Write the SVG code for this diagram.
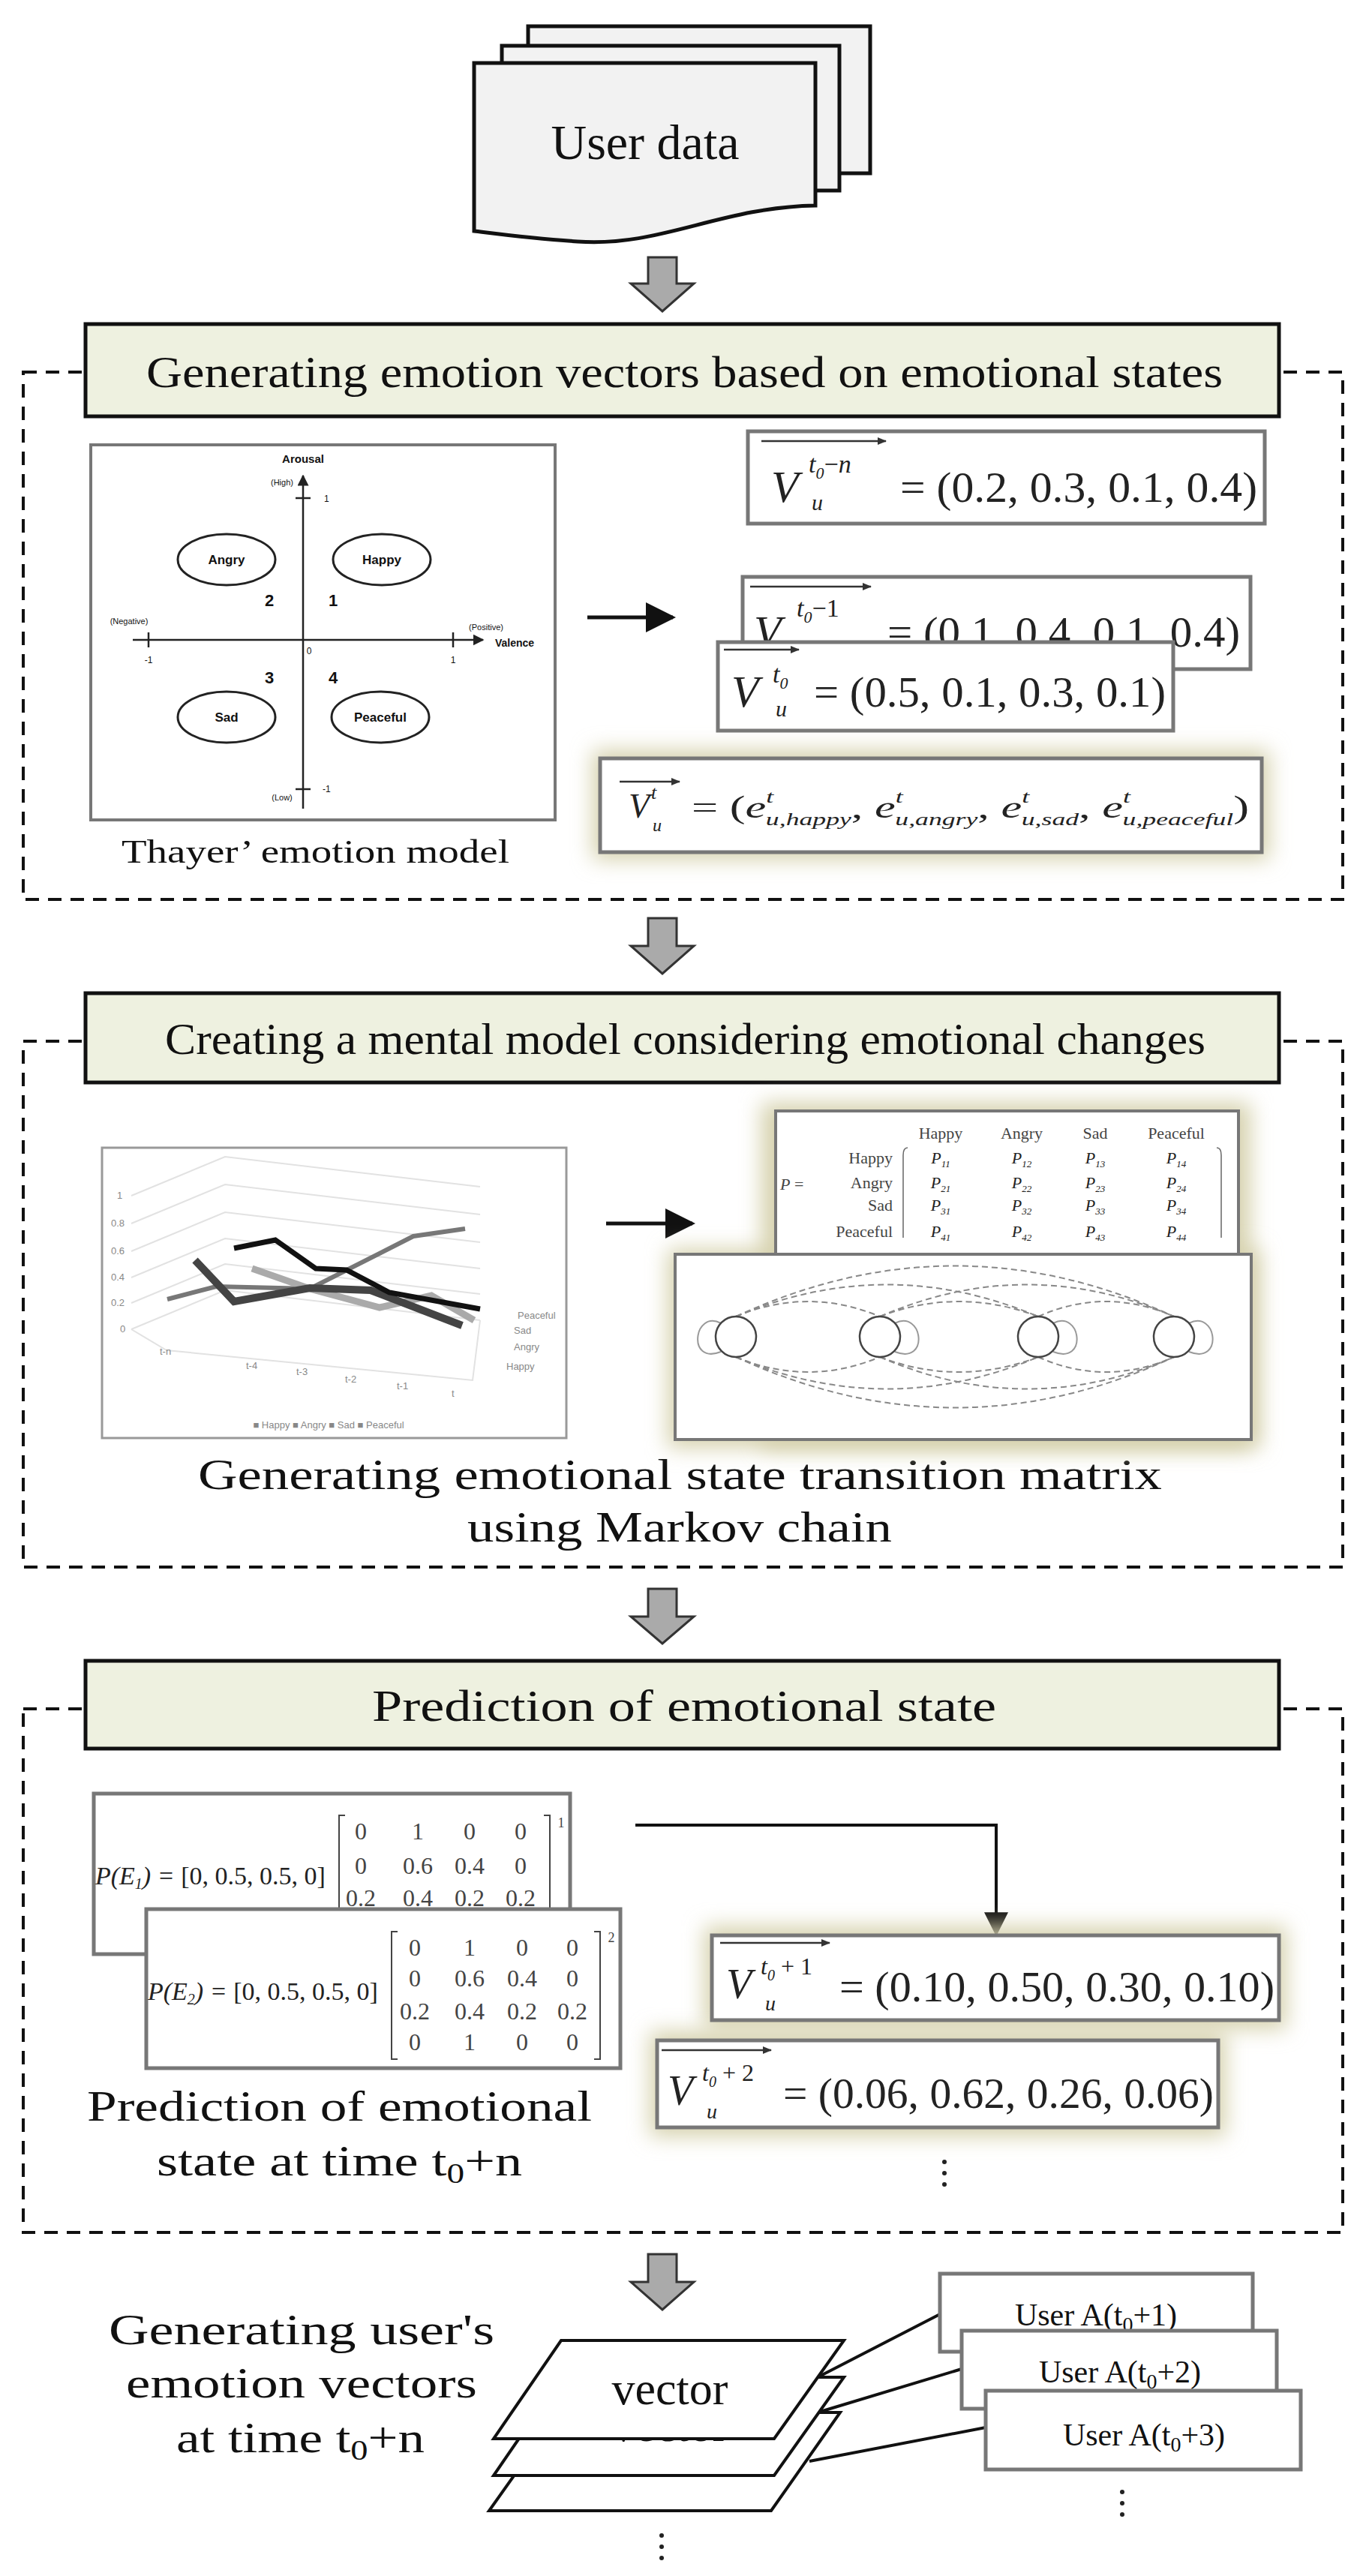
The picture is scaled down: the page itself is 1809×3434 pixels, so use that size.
<svg xmlns="http://www.w3.org/2000/svg" width="1809" height="3434" viewBox="0 0 1809 3434">
<defs>
<style>
.serif{font-family:"Liberation Serif","DejaVu Serif",serif;fill:#111}
.sans{font-family:"Liberation Sans","DejaVu Sans",sans-serif;fill:#111}
.hdr{fill:#eef1e0;stroke:#111;stroke-width:5}
.dash{fill:none;stroke:#111;stroke-width:4;stroke-dasharray:18 12}
.box{fill:#fff;stroke:#777;stroke-width:5}
.blk{fill:#aaa;stroke:#333;stroke-width:3}
.ax{stroke:#222;stroke-width:2.5;fill:none}
.ell{fill:#fff;stroke:#222;stroke-width:3}
.arc{fill:none;stroke:#888;stroke-width:2;stroke-dasharray:8 5}
.node{fill:#fff;stroke:#444;stroke-width:2.5}
.vec{stroke:#333;stroke-width:2.5}
.mi{font-family:"Liberation Serif","DejaVu Serif",serif;font-style:italic;fill:#222}
.mr{font-family:"Liberation Serif","DejaVu Serif",serif;fill:#222}
.pg{fill:#fff;stroke:#111;stroke-width:4}
</style>
<marker id="ah" viewBox="0 0 10 10" refX="9" refY="5" markerWidth="8" markerHeight="8" orient="auto"><path d="M0,0 L10,5 L0,10 Z" fill="#111"/></marker>
<marker id="sa" viewBox="0 0 10 10" refX="9" refY="5" markerWidth="5" markerHeight="5" orient="auto"><path d="M0,1 L10,5 L0,9 Z" fill="#333"/></marker>
<marker id="tah" viewBox="0 0 10 10" refX="9" refY="5" markerWidth="6" markerHeight="6" orient="auto"><path d="M0,0 L10,5 L0,10 Z" fill="#222"/></marker>
<filter id="glow" x="-20%" y="-40%" width="140%" height="180%"><feGaussianBlur stdDeviation="14"/></filter>
<clipPath id="midclip"><rect x="640" y="3251" width="500" height="60"/></clipPath>
</defs>
<rect width="1809" height="3434" fill="#fff"/>

<g id="userdata">
<rect x="704" y="35" width="456" height="196" fill="#f2f2f2" stroke="#111" stroke-width="5"/>
<rect x="669" y="61" width="450" height="193" fill="#f2f2f2" stroke="#111" stroke-width="5"/>
<path d="M632,84 L1087,84 L1087,274 C960,276 880,330 770,322 C710,318 665,312 632,308 Z" fill="#f2f2f2" stroke="#111" stroke-width="5"/>
<text class="serif" x="860" y="212" font-size="66" text-anchor="middle">User data</text>
</g>

<g id="connectors">
<path class="blk" d="M864,343 H902 V378 H925 L883,415 L841,378 H864 Z"/>
<path class="blk" d="M864,1224 H902 V1261 H925 L883,1298 L841,1261 H864 Z"/>
<path class="blk" d="M864,2118 H902 V2155 H925 L883,2191 L841,2155 H864 Z"/>
<path class="blk" d="M864,3005 H902 V3042 H925 L883,3079 L841,3042 H864 Z"/>
<line x1="783" y1="823" x2="897" y2="823" stroke="#111" stroke-width="5" marker-end="url(#ah)"/>
<line x1="808" y1="1631" x2="923" y2="1631" stroke="#111" stroke-width="5" marker-end="url(#ah)"/>
<path d="M847,2433 H1328 V2578" fill="none" stroke="#111" stroke-width="4" marker-end="url(#ah)"/>
<line x1="1090" y1="3169" x2="1253" y2="3085" stroke="#111" stroke-width="4"/>
<line x1="1090" y1="3216" x2="1282" y2="3158" stroke="#111" stroke-width="4"/>
<line x1="1079" y1="3281" x2="1314" y2="3236" stroke="#111" stroke-width="4"/>
</g>

<g id="section1">
<rect class="dash" x="31" y="496" width="1759" height="703"/>
<rect class="hdr" x="114" y="432" width="1591" height="123"/>
<text class="serif" x="195" y="516" font-size="60" textLength="1435" lengthAdjust="spacingAndGlyphs">Generating emotion vectors based on emotional states</text>
</g>

<g id="thayer">
<rect x="121" y="593" width="619" height="500" fill="#fff" stroke="#777" stroke-width="4"/>
<line class="ax" x1="404" y1="1078" x2="404" y2="634" marker-end="url(#tah)"/>
<line class="ax" x1="177" y1="853" x2="644" y2="853" marker-end="url(#tah)"/>
<line class="ax" x1="394" y1="664" x2="414" y2="664"/>
<line class="ax" x1="394" y1="1052" x2="414" y2="1052"/>
<line class="ax" x1="198" y1="843" x2="198" y2="863"/>
<line class="ax" x1="604" y1="843" x2="604" y2="863"/>
<text class="sans" x="404" y="617" font-size="15" font-weight="bold" text-anchor="middle">Arousal</text>
<text class="sans" x="376" y="647" font-size="11" text-anchor="middle" fill="#555">(High)</text>
<text class="sans" x="432" y="669" font-size="12" fill="#555">1</text>
<text class="sans" x="376" y="1067" font-size="11" text-anchor="middle" fill="#555">(Low)</text>
<text class="sans" x="430" y="1056" font-size="12" fill="#555">-1</text>
<text class="sans" x="172" y="832" font-size="11" text-anchor="middle" fill="#555">(Negative)</text>
<text class="sans" x="648" y="840" font-size="11" text-anchor="middle" fill="#555">(Positive)</text>
<text class="sans" x="660" y="862" font-size="14" font-weight="bold">Valence</text>
<text class="sans" x="198" y="884" font-size="12" text-anchor="middle" fill="#555">-1</text>
<text class="sans" x="604" y="884" font-size="12" text-anchor="middle" fill="#555">1</text>
<text class="sans" x="412" y="872" font-size="12" text-anchor="middle" fill="#555">0</text>
<ellipse class="ell" cx="302" cy="746" rx="65" ry="34"/>
<ellipse class="ell" cx="509" cy="746" rx="65" ry="34"/>
<ellipse class="ell" cx="302" cy="956" rx="65" ry="34"/>
<ellipse class="ell" cx="507" cy="956" rx="65" ry="34"/>
<text class="sans" x="302" y="752" font-size="17" font-weight="bold" text-anchor="middle">Angry</text>
<text class="sans" x="509" y="752" font-size="17" font-weight="bold" text-anchor="middle">Happy</text>
<text class="sans" x="302" y="962" font-size="17" font-weight="bold" text-anchor="middle">Sad</text>
<text class="sans" x="507" y="962" font-size="17" font-weight="bold" text-anchor="middle">Peaceful</text>
<text class="sans" x="359" y="808" font-size="22" font-weight="bold" text-anchor="middle">2</text>
<text class="sans" x="444" y="808" font-size="22" font-weight="bold" text-anchor="middle">1</text>
<text class="sans" x="359" y="911" font-size="22" font-weight="bold" text-anchor="middle">3</text>
<text class="sans" x="444" y="911" font-size="22" font-weight="bold" text-anchor="middle">4</text>
<text class="serif" x="162" y="1150" font-size="44" textLength="517" lengthAdjust="spacingAndGlyphs">Thayer’ emotion model</text>
</g>

<g id="vectors1">
<rect class="box" x="997" y="575" width="689" height="123"/>
<line class="vec" x1="1015" y1="588" x2="1181" y2="588" marker-end="url(#sa)"/>
<text class="mi" x="1028" y="669" font-size="60">V</text>
<text class="mi" x="1078" y="630" font-size="34">t<tspan font-size="22" dy="8">0</tspan><tspan dy="-8" font-style="normal">−</tspan>n</text>
<text class="mi" x="1082" y="680" font-size="30">u</text>
<text class="mr" x="1200" y="669" font-size="58" textLength="476" lengthAdjust="spacingAndGlyphs">= (0.2, 0.3, 0.1, 0.4)</text>
<circle cx="1322" cy="1070" r="3" fill="#222"/><circle cx="1322" cy="1085" r="3" fill="#222"/><circle cx="1322" cy="1100" r="3" fill="#222"/>
<rect class="box" x="990" y="769" width="677" height="123"/>
<line class="vec" x1="1000" y1="782" x2="1161" y2="782" marker-end="url(#sa)"/>
<text class="mi" x="1005" y="862" font-size="60">V</text>
<text class="mi" x="1062" y="822" font-size="34">t<tspan font-size="22" dy="8">0</tspan><tspan dy="-8" font-style="normal">−1</tspan></text>
<text class="mr" x="1183" y="862" font-size="58" textLength="470" lengthAdjust="spacingAndGlyphs">= (0.1, 0.4, 0.1, 0.4)</text>
<rect class="box" x="957" y="856" width="607" height="118"/>
<line class="vec" x1="965" y1="866" x2="1065" y2="866" marker-end="url(#sa)"/>
<text class="mi" x="975" y="942" font-size="60">V</text>
<text class="mi" x="1030" y="910" font-size="34">t<tspan font-size="22" dy="8">0</tspan></text>
<text class="mi" x="1034" y="955" font-size="30">u</text>
<text class="mr" x="1085" y="942" font-size="58" textLength="469" lengthAdjust="spacingAndGlyphs">= (0.5, 0.1, 0.3, 0.1)</text>
</g>

<g id="vectordef">
<rect x="790" y="1000" width="902" height="146" fill="#d6d1ad" filter="url(#glow)"/>
<rect class="box" x="800" y="1011" width="882" height="125"/>
<line class="vec" x1="826" y1="1042" x2="906" y2="1042" marker-end="url(#sa)"/>
<text class="mi" x="838" y="1090" font-size="46" fill="#444">V</text>
<text class="mi" x="868" y="1065" font-size="26" fill="#444">t</text>
<text class="mi" x="870" y="1108" font-size="24" fill="#444">u</text>
<text class="mi" x="922" y="1090" font-size="42" fill="#444" textLength="743" lengthAdjust="spacingAndGlyphs"><tspan font-style="normal">= (</tspan>e<tspan font-size="24" dy="-20">t</tspan><tspan font-size="24" dx="-7" dy="30">u,happy</tspan><tspan dy="-10" font-style="normal">, </tspan>e<tspan font-size="24" dy="-20">t</tspan><tspan font-size="24" dx="-7" dy="30">u,angry</tspan><tspan dy="-10" font-style="normal">, </tspan>e<tspan font-size="24" dy="-20">t</tspan><tspan font-size="24" dx="-7" dy="30">u,sad</tspan><tspan dy="-10" font-style="normal">, </tspan>e<tspan font-size="24" dy="-20">t</tspan><tspan font-size="24" dx="-7" dy="30">u,peaceful</tspan><tspan dy="-10" font-style="normal">)</tspan></text>
</g>

<g id="section2">
<rect class="dash" x="31" y="1388" width="1759" height="701"/>
<rect class="hdr" x="114" y="1324" width="1591" height="119"/>
<text class="serif" x="220" y="1405" font-size="60" textLength="1387" lengthAdjust="spacingAndGlyphs">Creating a mental model considering emotional changes</text>
<text class="serif" x="264" y="1985" font-size="56" textLength="1285" lengthAdjust="spacingAndGlyphs">Generating emotional state transition matrix</text>
<text class="serif" x="623" y="2055" font-size="56" textLength="566" lengthAdjust="spacingAndGlyphs">using Markov chain</text>
</g>

<g id="chart">
<rect x="136" y="1530" width="619" height="387" fill="#fff" stroke="#999" stroke-width="3"/>
<g stroke="#e2e2e2" stroke-width="2" fill="none">
<path d="M175,1772 L300,1720 L640,1760"/>
<path d="M175,1737 L300,1685 L640,1725"/>
<path d="M175,1703 L300,1651 L640,1691"/>
<path d="M175,1668 L300,1616 L640,1656"/>
<path d="M175,1631 L300,1579 L640,1619"/>
<path d="M175,1594 L300,1542 L640,1582"/>
<path d="M175,1772 L222,1800 L630,1840 L640,1760"/>
</g>
<g font-size="13" class="sans" fill="#888">
<text x="156" y="1598" fill="#888">1</text><text x="148" y="1635" fill="#888">0.8</text><text x="148" y="1672" fill="#888">0.6</text><text x="148" y="1707" fill="#888">0.4</text><text x="148" y="1741" fill="#888">0.2</text><text x="160" y="1776" fill="#888">0</text>
<text x="213" y="1806" fill="#888">t-n</text><text x="328" y="1825" fill="#888">t-4</text><text x="395" y="1833" fill="#888">t-3</text><text x="460" y="1843" fill="#888">t-2</text><text x="529" y="1852" fill="#888">t-1</text><text x="602" y="1862" fill="#888">t</text>
<text x="690" y="1758" fill="#888">Peaceful</text><text x="685" y="1778" fill="#888">Sad</text><text x="685" y="1800" fill="#888">Angry</text><text x="675" y="1826" fill="#888">Happy</text>
<text x="438" y="1904" text-anchor="middle" fill="#888">■ Happy  ■ Angry  ■ Sad  ■ Peaceful</text>
</g>
<polyline points="223,1732 288,1715 413,1718 551,1648 620,1638" fill="none" stroke="#777" stroke-width="6"/>
<polyline points="336,1691 413,1718 506,1743 575,1727 632,1760" fill="none" stroke="#aaa" stroke-width="9"/>
<polyline points="260,1680 312,1735 413,1717 494,1720 616,1767" fill="none" stroke="#444" stroke-width="10"/>
<polyline points="312,1664 367,1653 421,1691 462,1693 519,1723 640,1745" fill="none" stroke="#111" stroke-width="7"/>
</g>

<g id="matrix">
<rect x="1015" y="1470" width="652" height="460" fill="#d6d1ad" filter="url(#glow)"/>
<rect x="890" y="1665" width="790" height="265" fill="#d6d1ad" filter="url(#glow)"/>
<rect x="1034" y="1481" width="617" height="192" fill="#fff" stroke="#777" stroke-width="4"/>
<g class="mr" font-size="22" fill="#444">
<text x="1254" y="1518" text-anchor="middle" fill="#444">Happy</text><text x="1362" y="1518" text-anchor="middle" fill="#444">Angry</text><text x="1460" y="1518" text-anchor="middle" fill="#444">Sad</text><text x="1568" y="1518" text-anchor="middle" fill="#444">Peaceful</text>
<text x="1190" y="1551" text-anchor="end" fill="#444">Happy</text><text x="1190" y="1584" text-anchor="end" fill="#444">Angry</text><text x="1190" y="1614" text-anchor="end" fill="#444">Sad</text><text x="1190" y="1649" text-anchor="end" fill="#444">Peaceful</text>
<text x="1040" y="1586" fill="#444"><tspan font-style="italic">P</tspan> =</text>
</g>
<g class="mi" font-size="22" fill="#444" text-anchor="middle">
<text x="1254" y="1551">P<tspan font-size="13" dy="5">11</tspan></text><text x="1362" y="1551">P<tspan font-size="13" dy="5">12</tspan></text><text x="1460" y="1551">P<tspan font-size="13" dy="5">13</tspan></text><text x="1568" y="1551">P<tspan font-size="13" dy="5">14</tspan></text>
<text x="1254" y="1584">P<tspan font-size="13" dy="5">21</tspan></text><text x="1362" y="1584">P<tspan font-size="13" dy="5">22</tspan></text><text x="1460" y="1584">P<tspan font-size="13" dy="5">23</tspan></text><text x="1568" y="1584">P<tspan font-size="13" dy="5">24</tspan></text>
<text x="1254" y="1614">P<tspan font-size="13" dy="5">31</tspan></text><text x="1362" y="1614">P<tspan font-size="13" dy="5">32</tspan></text><text x="1460" y="1614">P<tspan font-size="13" dy="5">33</tspan></text><text x="1568" y="1614">P<tspan font-size="13" dy="5">34</tspan></text>
<text x="1254" y="1649">P<tspan font-size="13" dy="5">41</tspan></text><text x="1362" y="1649">P<tspan font-size="13" dy="5">42</tspan></text><text x="1460" y="1649">P<tspan font-size="13" dy="5">43</tspan></text><text x="1568" y="1649">P<tspan font-size="13" dy="5">44</tspan></text>
</g>
<path d="M1210,1530 Q1204,1530 1204,1540 V1650" fill="none" stroke="#666" stroke-width="1.5"/>
<path d="M1622,1530 Q1628,1530 1628,1540 V1650" fill="none" stroke="#666" stroke-width="1.5"/>
</g>

<g id="markov">
<rect x="900" y="1672" width="768" height="247" fill="#fff" stroke="#777" stroke-width="4"/>
<path class="arc" d="M981,1755 Q1077,1715 1173,1755"/>
<path class="arc" d="M1173,1755 Q1278,1715 1384,1755"/>
<path class="arc" d="M1384,1755 Q1474,1715 1565,1755"/>
<path class="arc" d="M981,1755 Q1182,1670 1384,1755"/>
<path class="arc" d="M1173,1755 Q1369,1670 1565,1755"/>
<path class="arc" d="M981,1755 Q1273,1620 1565,1755"/>
<path class="arc" d="M981,1809 Q1077,1849 1173,1809"/>
<path class="arc" d="M1173,1809 Q1278,1849 1384,1809"/>
<path class="arc" d="M1384,1809 Q1474,1849 1565,1809"/>
<path class="arc" d="M981,1809 Q1182,1894 1384,1809"/>
<path class="arc" d="M1173,1809 Q1369,1894 1565,1809"/>
<path class="arc" d="M981,1809 Q1273,1944 1565,1809"/>
<path d="M961,1764 C925,1745 915,1820 961,1802" fill="none" stroke="#999" stroke-width="2"/>
<path d="M1193,1764 C1230,1745 1240,1820 1193,1802" fill="none" stroke="#999" stroke-width="2"/>
<path d="M1404,1764 C1441,1745 1451,1820 1404,1802" fill="none" stroke="#999" stroke-width="2"/>
<path d="M1585,1764 C1622,1745 1632,1820 1585,1802" fill="none" stroke="#999" stroke-width="2"/>
<circle class="node" cx="981" cy="1782" r="27"/>
<circle class="node" cx="1173" cy="1782" r="27"/>
<circle class="node" cx="1384" cy="1782" r="27"/>
<circle class="node" cx="1565" cy="1782" r="27"/>
</g>

<g id="section3">
<rect class="dash" x="31" y="2278" width="1759" height="698"/>
<rect class="hdr" x="114" y="2214" width="1591" height="117"/>
<text class="serif" x="496" y="2294" font-size="60" textLength="832" lengthAdjust="spacingAndGlyphs">Prediction of emotional state</text>
<text class="serif" x="116" y="2827" font-size="56" textLength="673" lengthAdjust="spacingAndGlyphs">Prediction of emotional</text>
<text class="serif" x="209" y="2900" font-size="58" textLength="487" lengthAdjust="spacingAndGlyphs">state at time t<tspan font-size="38" dy="10">0</tspan><tspan dy="-10">+n</tspan></text>
</g>

<g id="pe1">
<rect class="box" x="125" y="2391" width="635" height="214"/>
<text class="mi" x="127" y="2512" font-size="34" fill="#444">P(E<tspan font-size="20" dy="6">1</tspan><tspan dy="-6">) = </tspan><tspan font-style="normal">[0, 0.5, 0.5, 0]</tspan></text>
<g class="mr" font-size="32" text-anchor="middle" fill="#444">
<text x="481" y="2452" fill="#444">0</text><text x="557" y="2452" fill="#444">1</text><text x="626" y="2452" fill="#444">0</text><text x="694" y="2452" fill="#444">0</text>
<text x="481" y="2498" fill="#444">0</text><text x="557" y="2498" fill="#444">0.6</text><text x="626" y="2498" fill="#444">0.4</text><text x="694" y="2498" fill="#444">0</text>
<text x="481" y="2541" fill="#444">0.2</text><text x="557" y="2541" fill="#444">0.4</text><text x="626" y="2541" fill="#444">0.2</text><text x="694" y="2541" fill="#444">0.2</text>
<text x="748" y="2436" font-size="18" fill="#444">1</text>
</g>
<path d="M460,2420 H452 V2600" fill="none" stroke="#444" stroke-width="2"/>
<path d="M725,2420 H733 V2600" fill="none" stroke="#444" stroke-width="2"/>
</g>

<g id="pe2">
<rect class="box" x="195" y="2545" width="632" height="212"/>
<text class="mi" x="197" y="2666" font-size="34" fill="#444">P(E<tspan font-size="20" dy="6">2</tspan><tspan dy="-6">) = </tspan><tspan font-style="normal">[0, 0.5, 0.5, 0]</tspan></text>
<g class="mr" font-size="32" text-anchor="middle" fill="#444">
<text x="553" y="2607" fill="#444">0</text><text x="626" y="2607" fill="#444">1</text><text x="696" y="2607" fill="#444">0</text><text x="763" y="2607" fill="#444">0</text>
<text x="553" y="2648" fill="#444">0</text><text x="626" y="2648" fill="#444">0.6</text><text x="696" y="2648" fill="#444">0.4</text><text x="763" y="2648" fill="#444">0</text>
<text x="553" y="2692" fill="#444">0.2</text><text x="626" y="2692" fill="#444">0.4</text><text x="696" y="2692" fill="#444">0.2</text><text x="763" y="2692" fill="#444">0.2</text>
<text x="553" y="2733" fill="#444">0</text><text x="626" y="2733" fill="#444">1</text><text x="696" y="2733" fill="#444">0</text><text x="763" y="2733" fill="#444">0</text>
<text x="815" y="2589" font-size="18" fill="#444">2</text>
</g>
<path d="M530,2575 H522 V2745 H530" fill="none" stroke="#444" stroke-width="2"/>
<path d="M792,2575 H800 V2745 H792" fill="none" stroke="#444" stroke-width="2"/>
</g>

<g id="vectors3">
<rect x="939" y="2568" width="776" height="137" fill="#d6d1ad" filter="url(#glow)"/>
<rect x="866" y="2708" width="768" height="140" fill="#d6d1ad" filter="url(#glow)"/>
<rect class="box" x="949" y="2580" width="756" height="113"/>
<line class="vec" x1="960" y1="2590" x2="1106" y2="2590" marker-end="url(#sa)"/>
<text class="mi" x="968" y="2664" font-size="56">V</text>
<text class="mi" x="1014" y="2632" font-size="32">t<tspan font-size="20" dy="8">0</tspan><tspan dy="-8" font-style="normal"> + 1</tspan></text>
<text class="mi" x="1020" y="2680" font-size="28">u</text>
<text class="mr" x="1119" y="2668" font-size="58" textLength="580" lengthAdjust="spacingAndGlyphs">= (0.10, 0.50, 0.30, 0.10)</text>
<rect class="box" x="876" y="2720" width="748" height="116"/>
<line class="vec" x1="882" y1="2733" x2="1028" y2="2733" marker-end="url(#sa)"/>
<text class="mi" x="890" y="2806" font-size="56">V</text>
<text class="mi" x="936" y="2774" font-size="32">t<tspan font-size="20" dy="8">0</tspan><tspan dy="-8" font-style="normal"> + 2</tspan></text>
<text class="mi" x="942" y="2824" font-size="28">u</text>
<text class="mr" x="1044" y="2810" font-size="58" textLength="574" lengthAdjust="spacingAndGlyphs">= (0.06, 0.62, 0.26, 0.06)</text>
<circle cx="1259" cy="2882" r="3" fill="#222"/><circle cx="1259" cy="2897" r="3" fill="#222"/><circle cx="1259" cy="2912" r="3" fill="#222"/>
</g>

<g id="output">
<text class="serif" x="145" y="3125" font-size="56" textLength="514" lengthAdjust="spacingAndGlyphs">Generating user's</text>
<text class="serif" x="168" y="3196" font-size="56" textLength="468" lengthAdjust="spacingAndGlyphs">emotion vectors</text>
<text class="serif" x="235" y="3269" font-size="58" textLength="331" lengthAdjust="spacingAndGlyphs">at time t<tspan font-size="38" dy="10">0</tspan><tspan dy="-10">+n</tspan></text>
<polygon class="pg" points="745,3216 1120,3216 1028,3347 652,3347"/>
<polygon class="pg" points="748,3169 1125,3169 1032,3300 658,3300"/>
<text class="serif" x="893" y="3254" font-size="62" text-anchor="middle" clip-path="url(#midclip)">vector</text>
<polygon class="pg" points="748,3120 1125,3120 1032,3251 658,3251"/>
<text class="serif" x="893" y="3205" font-size="62" text-anchor="middle">vector</text>
<circle cx="882" cy="3380" r="3" fill="#222"/><circle cx="882" cy="3395" r="3" fill="#222"/><circle cx="882" cy="3410" r="3" fill="#222"/>
</g>

<g id="useraboxes">
<rect class="box" x="1253" y="3031" width="417" height="104"/>
<text class="serif" x="1461" y="3100" font-size="42" text-anchor="middle">User A(t<tspan font-size="28" dy="8">0</tspan><tspan dy="-8">+1)</tspan></text>
<rect class="box" x="1282" y="3107" width="420" height="104"/>
<text class="serif" x="1493" y="3176" font-size="42" text-anchor="middle">User A(t<tspan font-size="28" dy="8">0</tspan><tspan dy="-8">+2)</tspan></text>
<rect class="box" x="1314" y="3187" width="420" height="105"/>
<text class="serif" x="1525" y="3260" font-size="42" text-anchor="middle">User A(t<tspan font-size="28" dy="8">0</tspan><tspan dy="-8">+3)</tspan></text>
<circle cx="1496" cy="3322" r="3" fill="#222"/><circle cx="1496" cy="3337" r="3" fill="#222"/><circle cx="1496" cy="3352" r="3" fill="#222"/>
</g>
</svg>
